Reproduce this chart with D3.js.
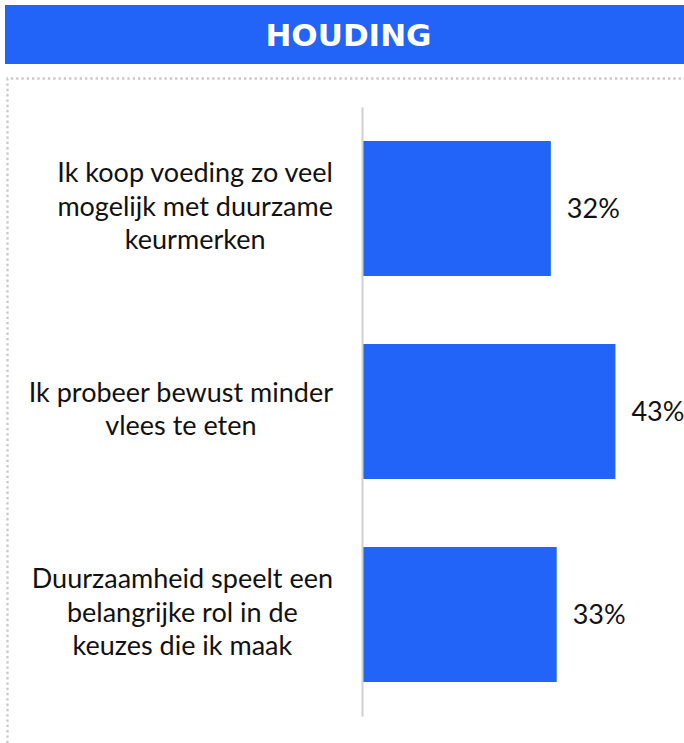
<!DOCTYPE html>
<html>
<head>
<meta charset="utf-8">
<script src="https://cdn.jsdelivr.net/npm/d3@7/dist/d3.min.js"></script>
<style>
  html, body { margin: 0; padding: 0; background: #ffffff; }
  svg { display: block; }
</style>
</head>
<body>
<svg id="chart" width="684" height="743"></svg>
<script>
// Survey statements (one array entry per line of the wrapped label)
const categories = [
  ["Ik koop voeding zo veel", "mogelijk met duurzame", "keurmerken"],
  ["Ik probeer bewust minder", "vlees te eten"],
  ["Duurzaamheid speelt een", "belangrijke rol in de", "keuzes die ik maak"]
];
// Share of respondents agreeing, in percent
const values = [32, 43, 33];
const valueLabels = ["32%", "43%", "33%"];
const title = "HOUDING";

const W = 684, H = 743;
const blue = "#2264F7";
const svg = d3.select("#chart");

// Header band
svg.append("rect")
  .attr("x", 5).attr("y", 5)
  .attr("width", W - 5).attr("height", 59)
  .attr("fill", blue);
svg.append("text")
  .attr("x", 348.5).attr("y", 34.5)
  .attr("text-anchor", "middle")
  .attr("dy", "0.36em")
  .attr("font-family", "'DejaVu Sans', sans-serif")
  .attr("font-weight", "bold")
  .attr("font-size", 31)
  .attr("fill", "#ffffff")
  .text(title);

// Dotted panel frame (top and left edges)
svg.append("path")
  .attr("d", `M7.5,${H} L7.5,78.5 L${W},78.5`)
  .attr("fill", "none")
  .attr("stroke", "#c8c8c8")
  .attr("stroke-width", 2.3)
  .attr("stroke-dasharray", "2.3,3");

// Scales
const x = d3.scaleLinear().domain([0, 50]).range([363, 656.5]);
const y = d3.scaleBand()
  .domain(d3.range(values.length))
  .range([107, 716])
  .paddingInner(0.335)
  .paddingOuter(0.1675);

// Bars
svg.append("g").selectAll("rect")
  .data(values)
  .join("rect")
  .attr("x", x(0))
  .attr("y", (d, i) => y(i))
  .attr("width", d => x(d) - x(0))
  .attr("height", y.bandwidth())
  .attr("fill", blue);

// Category axis line
const axis = d3.axisLeft(y).tickSize(0).tickFormat("");
const gAxis = svg.append("g")
  .attr("transform", `translate(${x(0) - 1},0)`)
  .call(axis);
gAxis.select(".domain")
  .attr("stroke", "#d0d0d0")
  .attr("stroke-width", 2);

// Value labels
svg.append("g").selectAll("text")
  .data(values)
  .join("text")
  .attr("x", d => x(d) + 16)
  .attr("y", (d, i) => y(i) + y.bandwidth() / 2)
  .attr("dy", "0.36em")
  .attr("font-family", "Lato, sans-serif")
  .attr("font-size", 27)
  .attr("fill", "#111111")
  .text((d, i) => valueLabels[i]);

// Category labels: block anchored at the right, lines centred within the block
const lineH = 33.5;
const labelRight = 333;
categories.forEach((lines, i) => {
  const cy = y(i) + y.bandwidth() / 2 + 7;
  const g = svg.append("g");
  const texts = g.selectAll("text")
    .data(lines)
    .join("text")
    .attr("y", (d, j) => cy + (j - (lines.length - 1) / 2) * lineH)
    .attr("font-family", "Lato, sans-serif")
    .attr("font-size", 27)
    .attr("fill", "#111111")
    .attr("text-anchor", "middle")
    .text(d => d);
  const maxW = d3.max(texts.nodes(), n => n.getComputedTextLength());
  texts.attr("x", labelRight - maxW / 2);
});
</script>
</body>
</html>
